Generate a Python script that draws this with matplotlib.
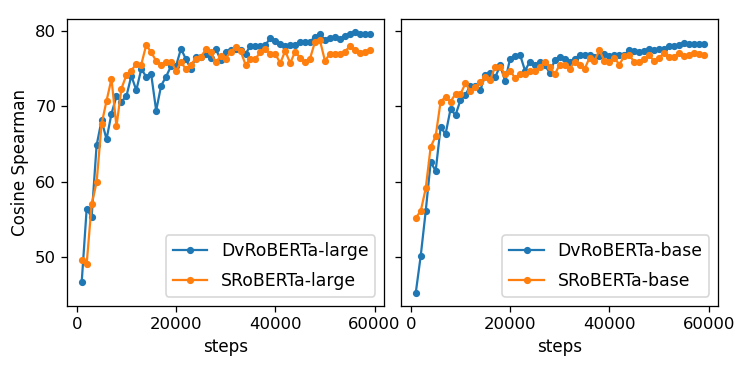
import numpy as np
import matplotlib
matplotlib.use("Agg")
import matplotlib.pyplot as plt

steps = np.arange(1000, 60000, 1000)

# left panel: large models
dv_large = [46.7, 56.4, 55.3, 64.8, 68.1, 65.6, 69.0, 71.3, 70.6, 71.3,
            74.0, 72.1, 74.9, 73.9, 74.2, 69.4, 72.7, 73.9, 75.3, 75.3,
            77.6, 76.2, 74.9, 76.5, 76.5, 76.9, 76.4, 77.6, 76.1, 77.1,
            77.4, 77.6, 77.4, 76.9, 78.0, 78.0, 78.0, 78.1, 79.0, 78.6,
            78.2, 77.9, 78.1, 78.1, 78.5, 78.5, 78.5, 79.2, 79.5, 78.8,
            79.0, 79.1, 78.9, 79.3, 79.6, 79.8, 79.6, 79.5, 79.5]
s_large = [49.6, 49.1, 57.0, 59.9, 67.6, 70.7, 73.6, 67.3, 72.3, 74.1,
           74.7, 75.6, 75.5, 78.1, 77.1, 76.0, 75.4, 75.9, 75.9, 74.7,
           75.8, 74.9, 75.5, 76.3, 76.5, 77.5, 77.1, 75.8, 76.6, 76.3,
           77.2, 77.8, 77.3, 75.5, 76.2, 76.3, 77.1, 77.5, 76.9, 76.9,
           75.7, 77.3, 75.7, 77.2, 76.4, 75.8, 76.3, 78.5, 78.7, 76.0,
           76.9, 76.9, 76.9, 77.2, 77.9, 77.4, 77.0, 77.2, 77.4]

# right panel: base models
dv_base = [45.3, 50.2, 56.1, 62.6, 61.4, 67.2, 66.3, 69.6, 68.8, 70.8,
           71.5, 72.7, 72.6, 72.1, 74.1, 74.4, 73.8, 75.4, 73.3, 76.3,
           76.6, 76.8, 74.7, 75.9, 75.4, 75.8, 75.4, 74.4, 76.1, 76.5,
           76.2, 75.8, 76.2, 76.8, 76.8, 76.8, 76.5, 76.6, 76.9, 76.6,
           76.7, 76.7, 76.8, 77.4, 77.3, 77.1, 77.3, 77.5, 77.4, 77.6,
           77.5, 77.9, 77.9, 78.1, 78.3, 78.2, 78.2, 78.2, 78.2]
s_base = [55.2, 56.1, 59.1, 64.6, 66.0, 70.6, 71.2, 70.6, 71.6, 71.6,
          73.0, 72.0, 72.5, 73.2, 73.8, 73.5, 75.2, 75.2, 74.2, 74.7,
          73.7, 74.2, 74.3, 74.6, 74.7, 75.2, 75.8, 75.2, 74.2, 75.5,
          75.5, 74.9, 75.9, 75.5, 74.9, 76.4, 76.0, 77.4, 76.0, 75.8,
          76.4, 75.5, 76.6, 76.7, 75.9, 75.9, 76.2, 76.7, 76.0, 76.4,
          77.0, 76.5, 76.5, 77.0, 76.6, 76.8, 77.0, 76.9, 76.8]

dpi = 115
fig, (ax1, ax2) = plt.subplots(1, 2, sharey=True, figsize=(748 / dpi, 374 / dpi), dpi=dpi)
fig.subplots_adjust(left=0.090, right=0.960, bottom=0.183, top=0.949, wspace=0.055)

ms = 7
lw = 1.4
ax1.plot(steps, dv_large, '.-', ms=ms, lw=lw, label='DvRoBERTa-large')
ax1.plot(steps, s_large, '.-', ms=ms, lw=lw, label='SRoBERTa-large')
ax1.set_xlabel('steps', fontsize=10.5)
ax1.set_ylabel('Cosine Spearman', fontsize=10.5)
ax1.legend(loc='lower right', fontsize=10.8, labelspacing=0.7)

ax2.plot(steps, dv_base, '.-', ms=ms, lw=lw, label='DvRoBERTa-base')
ax2.plot(steps, s_base, '.-', ms=ms, lw=lw, label='SRoBERTa-base')
ax2.set_xlabel('steps', fontsize=10.5)
ax2.legend(loc='lower right', fontsize=10.8, labelspacing=0.7)

for ax in (ax1, ax2):
    ax.set_xticks([0, 20000, 40000, 60000])
    ax.tick_params(labelsize=10.3)
ax1.set_yticks([50, 60, 70, 80])

fig.savefig('out.png', dpi=dpi)
